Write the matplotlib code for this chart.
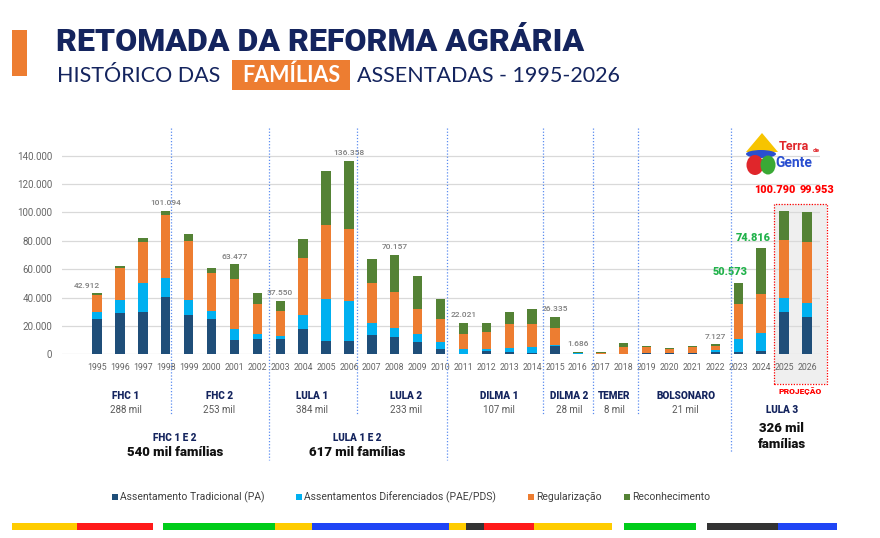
import matplotlib
matplotlib.use('Agg')
import matplotlib.pyplot as plt
import numpy as np
from matplotlib.transforms import blended_transform_factory
from matplotlib.patches import Rectangle, Polygon, Ellipse

# ---------------- DATA ----------------
years = ['1995', '1996', '1997', '1998', '1999', '2000', '2001', '2002', '2003', '2004',
         '2005', '2006', '2007', '2008', '2009', '2010', '2011', '2012', '2013', '2014',
         '2015', '2016', '2017', '2018', '2019', '2020', '2021', '2022', '2023', '2024',
         '2025', '2026']
# thousands of families
pa = [24.9, 29.2, 29.9, 40.5, 27.8, 24.9, 9.9, 10.8, 11.0, 17.6, 9.2, 9.2, 13.4, 12.0, 8.5, 4.0,
      0.3, 2.4, 1.6, 1.2, 5.9, 0.5, 0.1, 0.3, 1.0, 0.8, 0.8, 1.8, 1.3, 2.0, 29.8, 26.3]
pae = [5.0, 9.4, 20.5, 13.6, 10.8, 5.5, 8.0, 3.6, 1.7, 9.9, 29.6, 28.2, 8.5, 6.3, 5.8, 4.5,
       3.7, 1.6, 2.9, 4.0, 0.7, 0.1, 0.0, 0.1, 0.1, 0.1, 0.1, 0.9, 9.2, 12.7, 10.1, 9.6]
reg = [12.0, 21.9, 29.1, 44.3, 41.2, 26.8, 35.5, 21.4, 17.6, 40.5, 52.2, 50.8, 28.2, 25.6, 17.4, 16.2,
       10.6, 11.5, 16.7, 16.4, 11.7, 0.6, 0.9, 4.4, 3.7, 2.5, 3.9, 3.5, 24.9, 27.8, 40.9, 43.1]
rec = [1.0, 1.4, 2.4, 2.7, 5.1, 3.3, 10.1, 7.7, 7.25, 13.1, 38.3, 48.2, 17.3, 26.2, 23.5, 14.1,
       7.4, 6.8, 8.4, 10.1, 8.0, 0.5, 0.4, 3.0, 1.0, 1.0, 1.0, 0.9, 15.2, 32.3, 20.0, 21.0]
series_names = ['Assentamento Tradicional (PA)', 'Assentamentos Diferenciados (PAE/PDS)',
                'Regularização', 'Reconhecimento']

gray_label_years = ['1995', '1998', '2001', '2003', '2006', '2008', '2011', '2015', '2016', '2022']
gray_label_texts = ['42.912', '101.094', '63.477', '37.550', '136.358', '70.157', '22.021',
                    '26.335', '1.686', '7.127']
green_label_years = ['2023', '2024']
green_label_texts = ['50.573', '74.816']
red_label_years = ['2025', '2026']
red_label_texts = ['100.790', '99.953']

admin_names = ['FHC 1', 'FHC 2', 'LULA 1', 'LULA 2', 'DILMA 1', 'DILMA 2', 'TEMER', 'BOLSONARO']
admin_totals = ['288 mil', '253 mil', '384 mil', '233 mil', '107 mil', '28 mil', '8 mil', '21 mil']
group_names = ['FHC 1 E 2', 'LULA 1 E 2']
group_totals = ['540 mil famílias', '617 mil famílias']
lula3_name = 'LULA 3'
lula3_total = ['326 mil', 'famílias']
yticks = [0, 20000, 40000, 60000, 80000, 100000, 120000, 140000]

# ---------------- STYLE / LAYOUT ----------------
C_PA, C_PAE, C_REG, C_REC = '#1f4e79', '#00b0f0', '#ed7d31', '#548235'
NAVY = '#14245e'
GRAY = '#595959'
FONT = 'Roboto'
W, H = 880, 538

def fy(py):
    return 1 - py / H

def fx(px):
    return px / W

fig = plt.figure(figsize=(8.8, 5.38), dpi=100)
fig.patch.set_facecolor('white')

ax_left, ax_right, ax_bottom = 62, 820, 354.3
ymax = 150000
px_per_unit = (354.3 - 155.7) / 140000
ax_top = ax_bottom - ymax * px_per_unit
ax = fig.add_axes([fx(ax_left), fy(ax_bottom), fx(ax_right - ax_left), (ax_bottom - ax_top) / H])

n = len(years)
x = np.arange(n)
vals = [np.array(s) * 1000 for s in (pa, pae, reg, rec)]
colors = [C_PA, C_PAE, C_REG, C_REC]
bottom = np.zeros(n)
for v, c, name in zip(vals, colors, series_names):
    ax.bar(x, v, 0.41, bottom=bottom, color=c, label=name, zorder=2, linewidth=0)
    bottom = bottom + v
totals = bottom

ax.set_xlim(-1.53, 31.57)
ax.set_ylim(0, ymax)
ax.set_yticks(yticks)
ax.set_yticklabels([f"{t:,}".replace(',', '.') for t in yticks])
ax.set_xticks(x)
ax.set_xticklabels(years)
ax.tick_params(axis='both', length=0, colors=GRAY)
ax.tick_params(axis='y', pad=7, labelsize=7)
ax.tick_params(axis='x', pad=6, labelsize=6.3)
for lab in ax.get_xticklabels() + ax.get_yticklabels():
    lab.set_fontfamily(FONT)
    lab.set_color('#666666')
ax.yaxis.grid(True, color='#d9d9d9', lw=0.9)
ax.set_axisbelow(True)
for s in ax.spines.values():
    s.set_visible(False)
ax.set_facecolor('none')

trans = blended_transform_factory(ax.transData, fig.transFigure)

# projection box
bx0, bx1 = 29.56, 31.88
ax.add_patch(Rectangle((bx0, fy(384)), bx1 - bx0, fy(204) - fy(384), transform=trans,
                       facecolor='#efefef', edgecolor='none', zorder=0.2, clip_on=False))
ax.add_patch(Rectangle((bx0, fy(384)), bx1 - bx0, fy(204) - fy(384), transform=trans,
                       facecolor='none', edgecolor='#ff0000', lw=0.9, ls=(0, (1, 1.2)),
                       zorder=4, clip_on=False))

# separator lines
sep_x = [3.23, 7.5, 11.35, 15.28, 19.48, 21.66, 23.62, 27.69]
sep_bottom = [415, 460, 415, 460, 415, 415, 415, 453]
for sx, sb in zip(sep_x, sep_bottom):
    ax.plot([sx, sx], [fy(128), fy(sb)], transform=trans, clip_on=False,
            color='#5b8cf0', lw=0.9, ls=(0, (1, 1.5)), zorder=5)

# total labels
idx = {y: i for i, y in enumerate(years)}
for yr, t in zip(gray_label_years, gray_label_texts):
    i = idx[yr]
    dx = -7 if yr == '1995' else 0
    ax.annotate(t, (i, totals[i]), xytext=(dx, 5.5), textcoords='offset points',
                ha='center', va='center', fontsize=6, color='#7f7f7f', family=FONT,
                fontweight='medium')
for yr, t in zip(green_label_years, green_label_texts):
    i = idx[yr]
    ax.annotate(t, (i, totals[i]), xytext=(-6, 7.5), textcoords='offset points',
                ha='center', va='center', fontsize=7.8, color='#21b24b', family=FONT,
                fontweight='black')
for yr, t, dxp in zip(red_label_years, red_label_texts, [-9, 10]):
    i = idx[yr]
    ax.annotate(t, (i, fy(190)), xycoords=trans, xytext=(dxp * 0.72, 0), textcoords='offset points',
                ha='center', va='center', fontsize=7.8, color='#ff0000', family=FONT,
                fontweight='black', annotation_clip=False)
fig.text(fx(800), fy(391), 'PROJEÇÃO', color='#ff0000', fontsize=6, fontweight='black',
         family=FONT, ha='center', va='center')

# administration labels
admin_x = [1.27, 5.33, 9.39, 13.5, 17.55, 20.6, 22.6, 25.7]
for ax_, nm, tt in zip(admin_x, admin_names, admin_totals):
    ax.text(ax_, fy(396), nm, transform=trans, ha='center', va='center', fontsize=7.2,
            fontweight='black', color=NAVY, family=FONT)
    ax.text(ax_, fy(410), tt, transform=trans, ha='center', va='center', fontsize=7,
            color=GRAY, family=FONT)
group_x = [3.4, 11.35]
for gx, gn, gt in zip(group_x, group_names, group_totals):
    ax.text(gx, fy(438), gn, transform=trans, ha='center', va='center', fontsize=7.2,
            fontweight='black', color=NAVY, family=FONT)
    ax.text(gx, fy(453), gt, transform=trans, ha='center', va='center', fontsize=9.5,
            fontweight='black', color='#111111', family=FONT)
ax.text(29.9, fy(410), lula3_name, transform=trans, ha='center', va='center', fontsize=7.2,
        fontweight='black', color=NAVY, family=FONT)
ax.text(29.9, fy(428), lula3_total[0], transform=trans, ha='center', va='center', fontsize=9.5,
        fontweight='black', color='#111111', family=FONT)
ax.text(29.9, fy(444), lula3_total[1], transform=trans, ha='center', va='center', fontsize=9.5,
        fontweight='black', color='#111111', family=FONT)

# ---------------- TITLE ----------------
fig.patches.append(Rectangle((fx(12), fy(76)), fx(15), (76 - 30) / H, transform=fig.transFigure,
                             facecolor=C_REG, edgecolor='none'))
fig.text(fx(56), fy(42), 'RETOMADA DA REFORMA AGRÁRIA', ha='left', va='center', fontsize=23,
         fontweight='black', color=NAVY, family=FONT)
fig.text(fx(57), fy(75.5), 'HISTÓRICO DAS', ha='left', va='center', fontsize=15.5,
         fontweight='normal', color=NAVY, family='Lato')
fig.patches.append(Rectangle((fx(232), fy(90)), fx(118), 30 / H, transform=fig.transFigure,
                             facecolor=C_REG, edgecolor='none'))
fig.text(fx(291), fy(75.5), 'FAMÍLIAS', ha='center', va='center', fontsize=15.5,
         fontweight='bold', color='white', family='Lato')
fig.text(fx(357), fy(75.5), 'ASSENTADAS - 1995-2026', ha='left', va='center', fontsize=15.5,
         fontweight='normal', color=NAVY, family='Lato')

# ---------------- LOGO ----------------
fig.patches.append(Polygon([[fx(746), fy(152)], [fx(762), fy(133)], [fx(778), fy(152)]],
                           closed=True, transform=fig.transFigure, facecolor='#f7c400',
                           edgecolor='none'))
fig.patches.append(Ellipse((fx(761), fy(154)), fx(30), 8 / H, transform=fig.transFigure,
                           facecolor='#2a4fd0', edgecolor='none'))
fig.patches.append(Ellipse((fx(755), fy(165)), fx(17), 20 / H, transform=fig.transFigure,
                           facecolor='#e0262b', edgecolor='none'))
fig.patches.append(Ellipse((fx(768), fy(165)), fx(15), 19 / H, transform=fig.transFigure,
                           facecolor='#3aa935', edgecolor='none'))
fig.text(fx(779), fy(147), 'Terra', ha='left', va='center', fontsize=9, fontweight='bold',
         color='#e0262b', family=FONT)
fig.text(fx(813), fy(150), 'de', ha='left', va='center', fontsize=4.5, fontweight='bold',
         color='#e0262b', family=FONT)
fig.text(fx(775), fy(163), 'Gente', ha='left', va='center', fontsize=10, fontweight='bold',
         color='#2a4fd0', family=FONT)

# ---------------- LEGEND ----------------
leg_sq_x = [112, 296, 528, 624]
for sx, c, name in zip(leg_sq_x, colors, series_names):
    fig.patches.append(Rectangle((fx(sx), fy(500)), fx(6), 6 / H, transform=fig.transFigure,
                                 facecolor=c, edgecolor='none'))
    fig.text(fx(sx + 8), fy(497), name, ha='left', va='center', fontsize=7.5, color='#404040',
             family=FONT)

# ---------------- BOTTOM STRIPE ----------------
stripe = [(12, 77, '#ffcc00'), (77, 153, '#ff1a1a'), (163, 275, '#00cc1a'), (275, 312, '#ffcc00'),
          (312, 449, '#1f45f5'), (449, 466, '#ffcc00'), (466, 484, '#333333'), (484, 534, '#ff1a1a'),
          (534, 612, '#ffcc00'), (624, 696, '#00cc1a'), (707, 778, '#333333'), (778, 837, '#1f45f5')]
for a, b, c in stripe:
    fig.patches.append(Rectangle((fx(a), fy(530)), fx(b - a), 7 / H, transform=fig.transFigure,
                                 facecolor=c, edgecolor='none'))

fig.savefig('out.png', dpi=100, facecolor='white')
